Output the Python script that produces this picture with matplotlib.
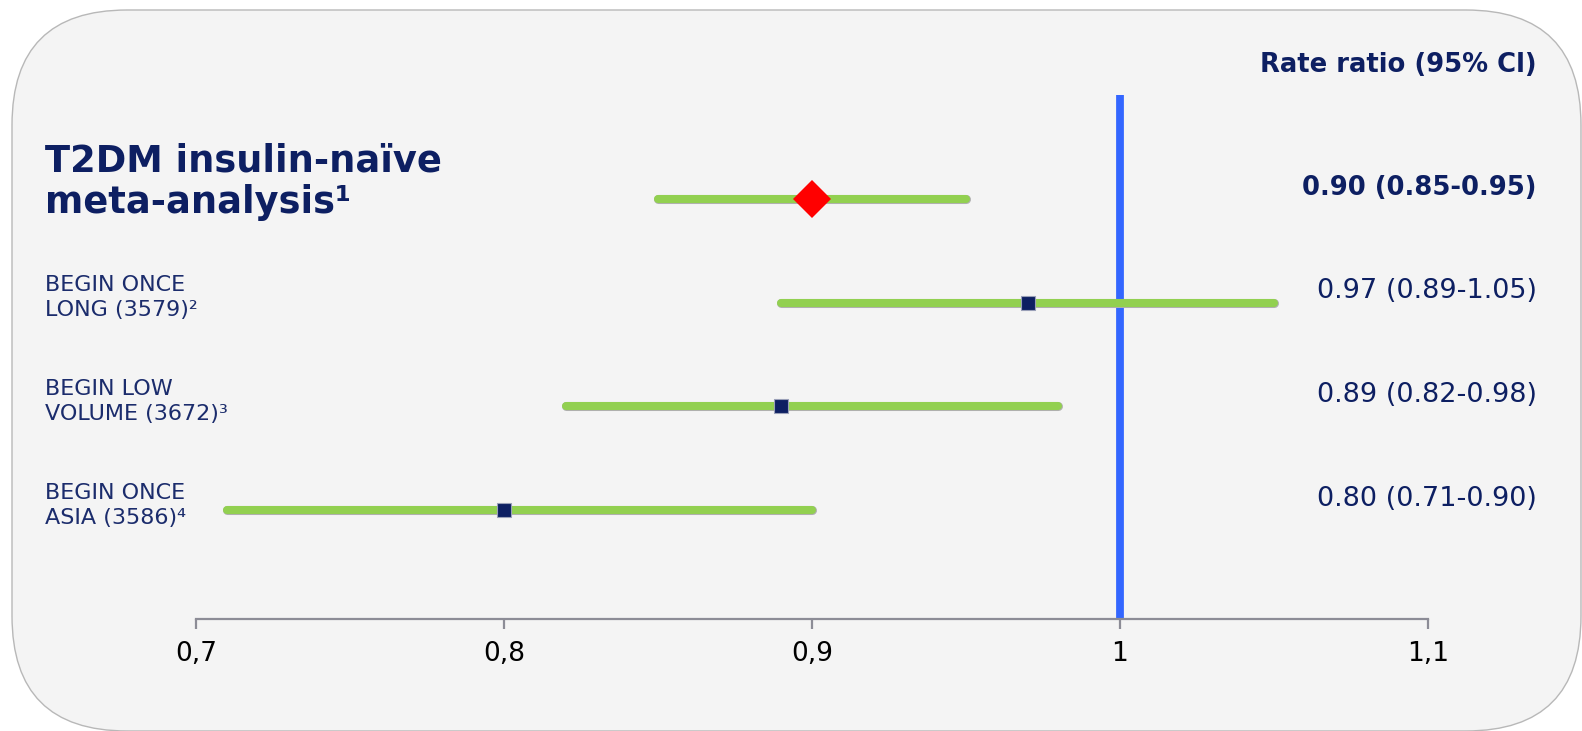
#!/usr/bin/env python3
"""
Forest plot of rate ratios (95% CI) for the insulin-naive T2DM trials
and their pooled meta-analysis estimate.
"""

import matplotlib
matplotlib.use("Agg")
import matplotlib.pyplot as plt
import matplotlib.patheffects as pe
import matplotlib.transforms as mtransforms
from matplotlib.patches import FancyBboxPatch

# ── Data ───────────────────────────────────────────────────────────────────────

STUDIES   = ["BEGIN ONCE\nLONG (3579)²",
             "BEGIN LOW\nVOLUME (3672)³",
             "BEGIN ONCE\nASIA (3586)⁴"]
STUDY_RR  = [0.97, 0.89, 0.80]
STUDY_LO  = [0.89, 0.82, 0.71]
STUDY_HI  = [1.05, 0.98, 0.90]

META_TITLE = ["T2DM insulin-naïve", "meta-analysis¹"]
META_RR    = 0.90
META_LO    = 0.85
META_HI    = 0.95

X_TICKS       = [0.7, 0.8, 0.9, 1.0, 1.1]
X_TICK_LABELS = ["0,7", "0,8", "0,9", "1", "1,1"]

NAVY  = "#0d1f62"
GREEN = "#92d050"
BLUE  = "#3366ff"
RED   = "#ff0000"
PANEL = "#f4f4f4"


def ci_label(rr, lo, hi):
    return f"{rr:.2f} ({lo:.2f}-{hi:.2f})"


def plot_forest(out_path="out.png"):
    W, H = 1582, 731
    fig = plt.figure(figsize=(W / 100, H / 100), dpi=100, facecolor="white")

    # rounded background panel, drawn in pixel space
    panel = FancyBboxPatch((12, 0), 1569, 721,
                           boxstyle="round,pad=0,rounding_size=115",
                           transform=mtransforms.IdentityTransform(),
                           facecolor=PANEL, edgecolor="#b8b8b8", linewidth=1.0,
                           zorder=0)
    fig.add_artist(panel)

    ax = fig.add_axes([196 / W, (H - 619) / H, (1428 - 196) / W, (619 - 95) / H])
    ax.patch.set_visible(False)
    ax.set_xlim(0.7, 1.1)
    ax.set_ylim(4.05, -1.0)

    # line of no effect
    ax.axvline(1.0, ymin=0, ymax=1.004, color=BLUE, linewidth=5.6,
               solid_capstyle="butt", zorder=1)

    ci_fx = [pe.Stroke(linewidth=6.5, foreground="#b0b0b0"), pe.Normal()]

    # pooled estimate (row 0)
    ax.plot([META_LO, META_HI], [0, 0], color=GREEN, linewidth=5.8,
            solid_capstyle="round", path_effects=ci_fx, zorder=2)
    ax.plot(META_RR, 0, marker="D", color=RED, markersize=19,
            markeredgewidth=0, zorder=3)

    # individual trials (rows 1..3)
    rows = list(range(1, len(STUDIES) + 1))
    for y, rr, lo, hi in zip(rows, STUDY_RR, STUDY_LO, STUDY_HI):
        ax.plot([lo, hi], [y, y], color=GREEN, linewidth=5.8,
                solid_capstyle="round", path_effects=ci_fx, zorder=2)
        ax.plot(rr, y, marker="s", color=NAVY, markersize=10.5,
                markeredgecolor="#9aa0b8", markeredgewidth=0.8, zorder=3)

    # axis styling: only the bottom spine with downward ticks
    for side in ("top", "right", "left"):
        ax.spines[side].set_visible(False)
    ax.spines["bottom"].set_color("#8c8c96")
    ax.spines["bottom"].set_linewidth(1.6)
    ax.spines["bottom"].set_zorder(4)
    ax.set_yticks([])
    ax.set_xticks(X_TICKS)
    ax.set_xticklabels(X_TICK_LABELS, fontsize=19, color="black")
    ax.tick_params(axis="x", direction="out", length=7, width=1.6,
                   color="#8c8c96", pad=9)

    # text columns: x in figure fraction, y in data rows
    trans = mtransforms.blended_transform_factory(fig.transFigure, ax.transData)
    x_left = 45 / W
    x_right = 1537 / W

    ax.annotate(META_TITLE[0], xy=(x_left, 0), xycoords=trans,
                xytext=(0, 19.5), textcoords="offset points",
                ha="left", va="baseline", fontsize=26.5, fontweight="bold",
                color=NAVY, annotation_clip=False)
    ax.annotate(META_TITLE[1], xy=(x_left, 0), xycoords=trans,
                xytext=(0, -10), textcoords="offset points",
                ha="left", va="baseline", fontsize=26.5, fontweight="bold",
                color=NAVY, annotation_clip=False)
    ax.annotate(ci_label(META_RR, META_LO, META_HI), xy=(x_right, 0),
                xycoords=trans, xytext=(0, 3), textcoords="offset points",
                ha="right", va="baseline", fontsize=18.6, fontweight="bold",
                color=NAVY, annotation_clip=False)

    for y, name, rr, lo, hi in zip(rows, STUDIES, STUDY_RR, STUDY_LO, STUDY_HI):
        first, second = name.split("\n")
        ax.annotate(first, xy=(x_left, y), xycoords=trans,
                    xytext=(0, 8), textcoords="offset points",
                    ha="left", va="baseline", fontsize=16,
                    color="#1b2c6c", annotation_clip=False)
        ax.annotate(second, xy=(x_left, y), xycoords=trans,
                    xytext=(0, -10), textcoords="offset points",
                    ha="left", va="baseline", fontsize=16,
                    color="#1b2c6c", annotation_clip=False)
        ax.annotate(ci_label(rr, lo, hi), xy=(x_right, y), xycoords=trans,
                    xytext=(0, 3), textcoords="offset points",
                    ha="right", va="baseline", fontsize=19.5,
                    color=NAVY, annotation_clip=False)

    fig.text(x_right, (H - 72) / H, "Rate ratio (95% Cl)", ha="right",
             va="baseline", fontsize=18.6, fontweight="bold", color=NAVY)

    fig.savefig(out_path, dpi=100, facecolor="white")
    plt.close(fig)


if __name__ == "__main__":
    plot_forest()
